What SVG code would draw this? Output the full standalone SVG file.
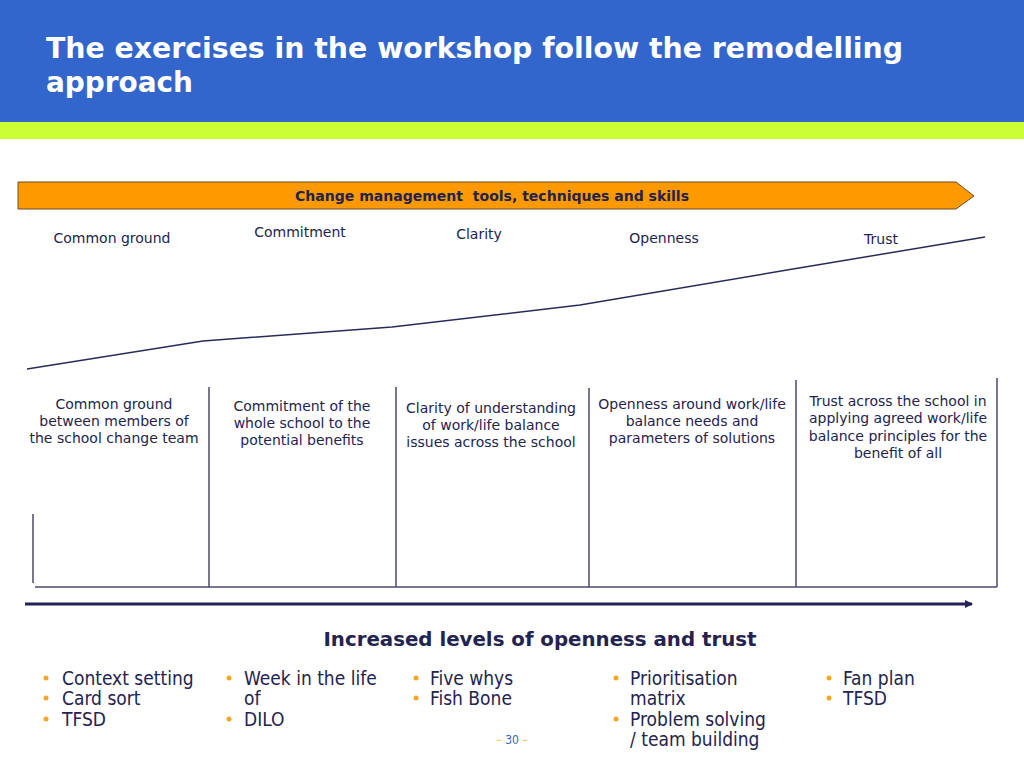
<svg xmlns="http://www.w3.org/2000/svg" width="1024" height="768" viewBox="0 0 1024 768">
<defs>
<style>
.title{font-family:"DejaVu Sans Condensed","DejaVu Sans",sans-serif;font-weight:bold;font-size:28px;fill:#FFFFFF}
.stage{font-family:"DejaVu Sans",Verdana,sans-serif;font-size:14px;fill:#23234F}
.col{font-family:"DejaVu Sans",Verdana,sans-serif;font-size:14px;fill:#23234F;text-anchor:middle}
.bul{font-family:"DejaVu Sans Condensed","DejaVu Sans",sans-serif;font-size:19px;fill:#23234F}
.dot{fill:#F5A623}
.vline{stroke:#4A4A70;stroke-width:1.5;fill:none}
.rise{stroke:#2A2A5A;stroke-width:1.5;fill:none}
</style>
<marker id="ah" markerWidth="8" markerHeight="8" refX="7" refY="4" orient="auto" markerUnits="userSpaceOnUse">
<path d="M0,0 L8,4 L0,8 Z" fill="#23235A"/>
</marker>
</defs>
<rect width="1024" height="768" fill="#FFFFFF"/>
<g id="header">
<rect x="0" y="0" width="1024" height="122" fill="#3366CC"/>
<rect x="0" y="122" width="1024" height="17" fill="#CCFF33"/>
<text class="title" x="46" y="58" textLength="857" lengthAdjust="spacingAndGlyphs">The exercises in the workshop follow the remodelling</text>
<text class="title" x="46" y="92" textLength="147" lengthAdjust="spacingAndGlyphs">approach</text>
</g>
<g id="change-bar">
<path d="M18,182 L956,182 L974,196 L956,209 L18,209 Z" fill="#FF9900" stroke="#6B4A2A" stroke-width="1"/>
<text x="492" y="201" text-anchor="middle" font-family="DejaVu Sans Condensed, DejaVu Sans, sans-serif" font-weight="bold" font-size="14" fill="#23234F" textLength="394" lengthAdjust="spacingAndGlyphs">Change management&#160; tools, techniques and skills</text>
</g>
<g id="stages">
<text class="stage" x="112" y="243" text-anchor="middle">Common ground</text>
<text class="stage" x="300" y="237" text-anchor="middle">Commitment</text>
<text class="stage" x="479" y="239" text-anchor="middle">Clarity</text>
<text class="stage" x="664" y="243" text-anchor="middle">Openness</text>
<text class="stage" x="881" y="244" text-anchor="middle">Trust</text>
</g>
<g id="connectors">
<polyline class="rise" points="27,369 203,341 392,327 580,305 787,270 985,237"/>
<line x1="25" y1="604" x2="972" y2="604" stroke="#23235A" stroke-width="3" marker-end="url(#ah)"/>
</g>
<g id="columns">
<line class="vline" x1="33" y1="514" x2="33" y2="583"/>
<line class="vline" x1="209" y1="387" x2="209" y2="587"/>
<line class="vline" x1="396" y1="387" x2="396" y2="587"/>
<line class="vline" x1="589" y1="388" x2="589" y2="587"/>
<line class="vline" x1="796" y1="380" x2="796" y2="587"/>
<line class="vline" x1="997" y1="378" x2="997" y2="587"/>
<line class="vline" x1="35" y1="587" x2="997" y2="587"/>
</g>
<g id="col-common-ground">
<text class="col" x="114" y="409">Common ground</text>
<text class="col" x="114" y="426">between members of</text>
<text class="col" x="114" y="443">the school change team</text>
</g>
<g id="col-commitment">
<text class="col" x="302" y="411">Commitment of the</text>
<text class="col" x="302" y="428">whole school to the</text>
<text class="col" x="302" y="445">potential benefits</text>
</g>
<g id="col-clarity">
<text class="col" x="491" y="413">Clarity of understanding</text>
<text class="col" x="491" y="430">of work/life balance</text>
<text class="col" x="491" y="447">issues across the school</text>
</g>
<g id="col-openness">
<text class="col" x="692" y="409">Openness around work/life</text>
<text class="col" x="692" y="426">balance needs and</text>
<text class="col" x="692" y="443">parameters of solutions</text>
</g>
<g id="col-trust">
<text class="col" x="898" y="406">Trust across the school in</text>
<text class="col" x="898" y="423">applying agreed work/life</text>
<text class="col" x="898" y="441">balance principles for the</text>
<text class="col" x="898" y="458">benefit of all</text>
</g>
<g id="increased">
<text x="540" y="646" text-anchor="middle" font-family="DejaVu Sans Condensed, DejaVu Sans, sans-serif" font-weight="bold" font-size="20" fill="#23234F" textLength="433" lengthAdjust="spacingAndGlyphs">Increased levels of openness and trust</text>
</g>
<g id="tools-1">
<circle class="dot" cx="46" cy="678" r="2.5"/><text class="bul" x="62" y="685">Context setting</text>
<circle class="dot" cx="46" cy="698" r="2.5"/><text class="bul" x="62" y="705">Card sort</text>
<circle class="dot" cx="46" cy="719" r="2.5"/><text class="bul" x="62" y="726">TFSD</text>
</g>
<g id="tools-2">
<circle class="dot" cx="229" cy="678" r="2.5"/><text class="bul" x="244" y="685">Week in the life</text>
<text class="bul" x="244" y="705">of</text>
<circle class="dot" cx="229" cy="719" r="2.5"/><text class="bul" x="244" y="726">DILO</text>
</g>
<g id="tools-3">
<circle class="dot" cx="416" cy="678" r="2.5"/><text class="bul" x="430" y="685">Five whys</text>
<circle class="dot" cx="416" cy="698" r="2.5"/><text class="bul" x="430" y="705">Fish Bone</text>
</g>
<g id="tools-4">
<circle class="dot" cx="616" cy="678" r="2.5"/><text class="bul" x="630" y="685">Prioritisation</text>
<text class="bul" x="630" y="705">matrix</text>
<circle class="dot" cx="616" cy="719" r="2.5"/><text class="bul" x="630" y="726">Problem solving</text>
<text class="bul" x="630" y="746">/ team building</text>
</g>
<g id="tools-5">
<circle class="dot" cx="829" cy="678" r="2.5"/><text class="bul" x="843" y="685">Fan plan</text>
<circle class="dot" cx="829" cy="698" r="2.5"/><text class="bul" x="843" y="705">TFSD</text>
</g>
<g id="page-number">
<text x="512" y="744" text-anchor="middle" font-family="DejaVu Sans Condensed, DejaVu Sans, sans-serif" font-size="12"><tspan fill="#F5C26B">– </tspan><tspan fill="#3366CC">30</tspan><tspan fill="#F5C26B"> –</tspan></text>
</g>
</svg>
